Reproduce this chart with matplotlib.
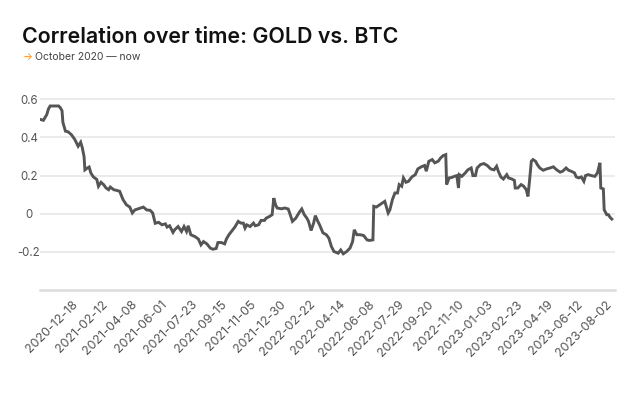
import matplotlib.pyplot as plt

# Rolling correlation GOLD vs BTC
# x = trading-day index since start of series, y = correlation
day = [0, 4, 8, 10, 12, 22, 24, 26, 27, 30, 33, 37, 41, 45, 48, 50, 52, 53, 56, 58,
       60, 63, 67, 69, 72, 75, 78, 81, 83, 87, 90, 94, 98, 102, 106, 109, 112, 116, 122, 126,
       130, 133, 136, 140, 144, 148, 150, 153, 157,
       159, 163, 167, 170, 173, 175, 178, 183, 187, 190, 193, 197, 201, 204, 208, 210, 214, 218, 220, 223,
       226, 230, 234, 237, 240, 242, 244, 248, 252, 254, 258, 261, 265, 267, 271, 274, 276, 278, 280, 285,
       289, 293, 295, 298, 302, 306, 309, 312, 315, 317, 320, 323, 325, 328,
       330, 334, 338, 341, 344, 347, 352, 355, 358, 362, 366, 369, 371, 374, 378, 382, 386, 389, 393, 394,
       397, 401, 404, 407, 411, 413, 416, 419, 422, 424, 427, 429, 432, 435, 439, 443, 446, 450, 454, 456,
       459, 463, 466, 470, 473, 476, 479, 480, 483, 486, 489, 492, 494, 495, 498,
       502, 505, 509, 511, 514, 516, 520, 524, 528, 532, 536, 539, 541, 544, 547, 551, 553, 557, 560, 561,
       564, 568, 571, 574, 576, 578, 580, 582, 585, 587, 590, 594, 598, 602, 606, 610, 614, 617, 621, 624,
       627, 631, 633, 636, 639, 642, 644, 647, 651, 655, 658, 661, 662, 665, 666, 669, 671, 673, 675]
corr = [0.495, 0.49, 0.52, 0.55, 0.565, 0.565, 0.556, 0.54, 0.48, 0.433, 0.43, 0.415, 0.39, 0.354, 0.375, 0.345, 0.30, 0.23, 0.24, 0.245,
        0.214, 0.193, 0.18, 0.144, 0.165, 0.153, 0.135, 0.126, 0.14, 0.126, 0.123, 0.118, 0.074, 0.047, 0.035, 0.004, 0.02, 0.026, 0.035, 0.02,
        0.018, 0.004, -0.05, -0.045, -0.058, -0.053, -0.07, -0.063, -0.098,
        -0.084, -0.067, -0.093, -0.067, -0.093, -0.063, -0.11, -0.12, -0.133, -0.163, -0.146, -0.158, -0.18, -0.186, -0.182, -0.151, -0.151, -0.158, -0.133, -0.11,
        -0.093, -0.07, -0.04, -0.049, -0.049, -0.075, -0.058, -0.067, -0.049, -0.063, -0.058, -0.035, -0.035, -0.023, -0.014, -0.005, 0.082, 0.047, 0.03, 0.026,
        0.03, 0.025, 0.0, -0.04, -0.023, 0.007, 0.025, -0.005, -0.023, -0.04, -0.088, -0.049, -0.01, -0.04,
        -0.058, -0.10, -0.11, -0.128, -0.172, -0.198, -0.207, -0.19, -0.21, -0.198, -0.18, -0.146, -0.084, -0.11, -0.11, -0.114, -0.137, -0.14, -0.137, 0.039,
        0.035, 0.047, 0.056, 0.065, 0.004, 0.02, 0.074, 0.109, 0.109, 0.153, 0.144, 0.188, 0.165, 0.17, 0.193, 0.205, 0.235, 0.246, 0.253, 0.223,
        0.275, 0.284, 0.267, 0.275, 0.293, 0.305, 0.31, 0.153, 0.188, 0.19, 0.196, 0.2, 0.135, 0.205, 0.196,
        0.214, 0.23, 0.24, 0.2, 0.2, 0.24, 0.258, 0.263, 0.253, 0.235, 0.23, 0.249, 0.223, 0.193, 0.182, 0.205, 0.188, 0.182, 0.175, 0.135,
        0.135, 0.153, 0.144, 0.126, 0.091, 0.179, 0.275, 0.284, 0.275, 0.258, 0.24, 0.228, 0.235, 0.24, 0.246, 0.23, 0.218, 0.223, 0.24, 0.228,
        0.223, 0.214, 0.193, 0.188, 0.193, 0.17, 0.2, 0.205, 0.2, 0.196, 0.214, 0.267, 0.135, 0.13, 0.021, -0.005, -0.005, -0.019, -0.028]

tick_labels = ['2020-12-18', '2021-02-12', '2021-04-08', '2021-06-01', '2021-07-23', '2021-09-15',
               '2021-11-05', '2021-12-30', '2022-02-22', '2022-04-14', '2022-06-08', '2022-07-29',
               '2022-09-20', '2022-11-10', '2023-01-03', '2023-02-23', '2023-04-19', '2023-06-12',
               '2023-08-02']
tick_pos = [38 + 35 * i for i in range(len(tick_labels))]
y_ticks = [-0.2, 0, 0.2, 0.4, 0.6]
y_tick_labels = ['-0.2', '0', '0.2', '0.4', '0.6']

plt.rcParams['font.family'] = ['Inter', 'DejaVu Sans']

fig = plt.figure(figsize=(6.3, 3.93), dpi=100)
ax = fig.add_axes([0.0635, 0.262, 0.913, 0.495])

ax.plot(day, corr, color='#555555', linewidth=2.1, solid_joinstyle='miter', zorder=3)

ax.set_xticks(tick_pos)
ax.set_xticklabels(tick_labels, rotation=45, ha='right', va='top', rotation_mode='anchor')
ax.set_xlim(0, 679)
ax.set_ylim(-0.4, 0.62)
ax.set_yticks(y_ticks)
ax.set_yticklabels(y_tick_labels)

ax.grid(axis='y', color='#e9e9e9', linewidth=1.3)
ax.set_axisbelow(True)
for s in ['top', 'right', 'left']:
    ax.spines[s].set_visible(False)
ax.spines['bottom'].set_color('#dcdcdc')
ax.spines['bottom'].set_linewidth(1.8)
ax.tick_params(axis='both', length=0, colors='#555555')
ax.tick_params(axis='x', pad=6, labelsize=9)
ax.tick_params(axis='y', pad=8, labelsize=8.3)
for lbl in ax.get_yticklabels():
    lbl.set_horizontalalignment('center')

fig.text(0.035, 0.905, 'Correlation over time: GOLD vs. BTC', fontsize=15.4, fontweight='semibold',
         color='#111111', va='center')
fig.text(0.036, 0.855, '\u2192', fontsize=7.5, color='#f7931a', va='center')
fig.text(0.056, 0.855, 'October 2020 \u2014 now', fontsize=7.5, color='#444444', va='center')

plt.savefig('out.png', dpi=100)
